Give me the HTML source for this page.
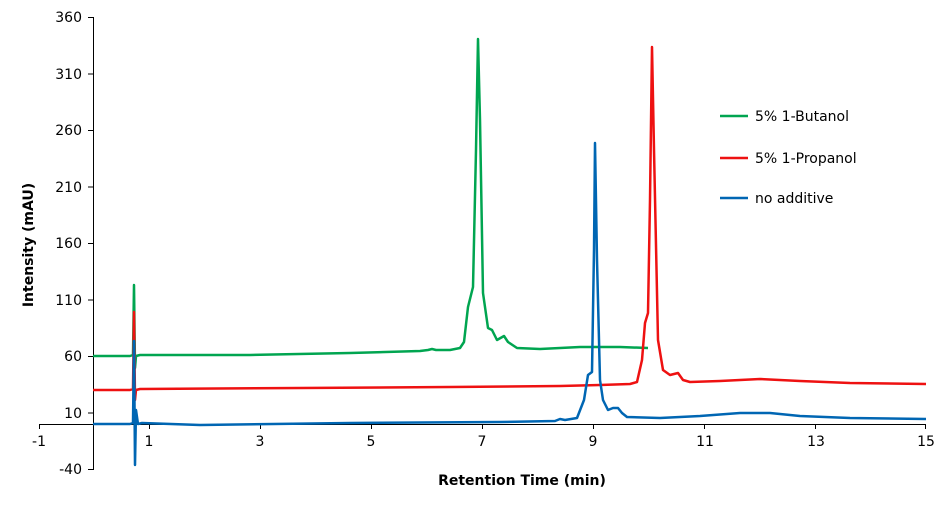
<!DOCTYPE html>
<html><head><meta charset="utf-8"><style>
html,body{margin:0;padding:0;background:#fff;}
svg{display:block;font-family:"DejaVu Sans","Liberation Sans",sans-serif;}
</style></head><body>
<svg width="950" height="508" viewBox="0 0 950 508">
<g stroke="#000" stroke-width="1" fill="none">
<line x1="93.5" y1="17" x2="93.5" y2="470"/>
<line x1="39" y1="424.5" x2="926" y2="424.5"/>
<line x1="88" y1="17.5" x2="93" y2="17.5"/>
<line x1="88" y1="74" x2="93" y2="74"/>
<line x1="88" y1="130.5" x2="93" y2="130.5"/>
<line x1="88" y1="187" x2="93" y2="187"/>
<line x1="88" y1="243.5" x2="93" y2="243.5"/>
<line x1="88" y1="300" x2="93" y2="300"/>
<line x1="88" y1="356.5" x2="93" y2="356.5"/>
<line x1="88" y1="413" x2="93" y2="413"/>
<line x1="88" y1="469.5" x2="93" y2="469.5"/>
<line x1="39.5" y1="424" x2="39.5" y2="429"/>
<line x1="149.5" y1="424" x2="149.5" y2="429"/>
<line x1="260.5" y1="424" x2="260.5" y2="429"/>
<line x1="371.5" y1="424" x2="371.5" y2="429"/>
<line x1="482.5" y1="424" x2="482.5" y2="429"/>
<line x1="593.5" y1="424" x2="593.5" y2="429"/>
<line x1="704.5" y1="424" x2="704.5" y2="429"/>
<line x1="815.5" y1="424" x2="815.5" y2="429"/>
<line x1="925.5" y1="424" x2="925.5" y2="429"/>
</g>
<g font-size="14" fill="#000" text-anchor="end">
<text x="82" y="22">360</text><text x="82" y="79">310</text><text x="82" y="135">260</text>
<text x="82" y="192">210</text><text x="82" y="248">160</text><text x="82" y="305">110</text>
<text x="82" y="361">60</text><text x="82" y="418">10</text><text x="82" y="474">-40</text>
</g>
<g font-size="14" fill="#000" text-anchor="middle">
<text x="39" y="446">-1</text><text x="149" y="446">1</text><text x="260" y="446">3</text>
<text x="371" y="446">5</text><text x="482" y="446">7</text><text x="593" y="446">9</text>
<text x="705" y="446">11</text><text x="816" y="446">13</text><text x="926" y="446">15</text>
</g>
<text x="522" y="485" font-size="14" font-weight="bold" text-anchor="middle">Retention Time (min)</text>
<text transform="translate(33,245) rotate(-90)" font-size="14" font-weight="bold" text-anchor="middle">Intensity (mAU)</text>
<g fill="none" stroke-width="2.5" stroke-linejoin="round">
<path stroke="#00a550" d="M93,356 L130,356 L133,355 L134,285 L135,368 L136,356 L140,355 L250,355 L350,353 L420,351 L428,350 L432,349 L436,350 L450,350 L460,348 L464,342 L468,307 L473,287 L476,150 L478,39 L480,120 L483,293 L488,328 L492,330 L497,340 L504,336 L508,342 L517,348 L540,349 L580,347 L620,347 L648,348"/>
<path stroke="#ee1111" d="M93,390 L130,390 L133,389 L134,312 L135,400 L136,390 L140,389 L300,388 L450,387 L560,386 L600,385 L630,384 L637,382 L642,360 L645,323 L648,313 L650,200 L652,47 L654,150 L658,340 L663,370 L670,375 L678,373 L683,380 L690,382 L720,381 L760,379 L800,381 L850,383 L926,384"/>
<path stroke="#0066b3" d="M93,424 L130,424 L133,423 L134,341 L135,465 L136,410 L138,424 L142,423 L200,425 L350,423 L500,422 L555,421 L560,419 L565,420 L577,418 L584,400 L588,375 L592,372 L594,250 L595,143 L597,260 L600,380 L603,400 L608,410 L613,408 L618,408 L622,413 L627,417 L660,418 L700,416 L740,413 L770,413 L800,416 L850,418 L926,419"/>
</g>
<g stroke-width="2.5">
<line x1="720" y1="116" x2="748" y2="116" stroke="#00a550"/>
<line x1="720" y1="158" x2="748" y2="158" stroke="#ee1111"/>
<line x1="720" y1="198" x2="748" y2="198" stroke="#0066b3"/>
</g>
<g font-size="14" fill="#000">
<text x="755" y="121">5% 1-Butanol</text>
<text x="755" y="163">5% 1-Propanol</text>
<text x="755" y="203">no additive</text>
</g>
</svg>
</body></html>
